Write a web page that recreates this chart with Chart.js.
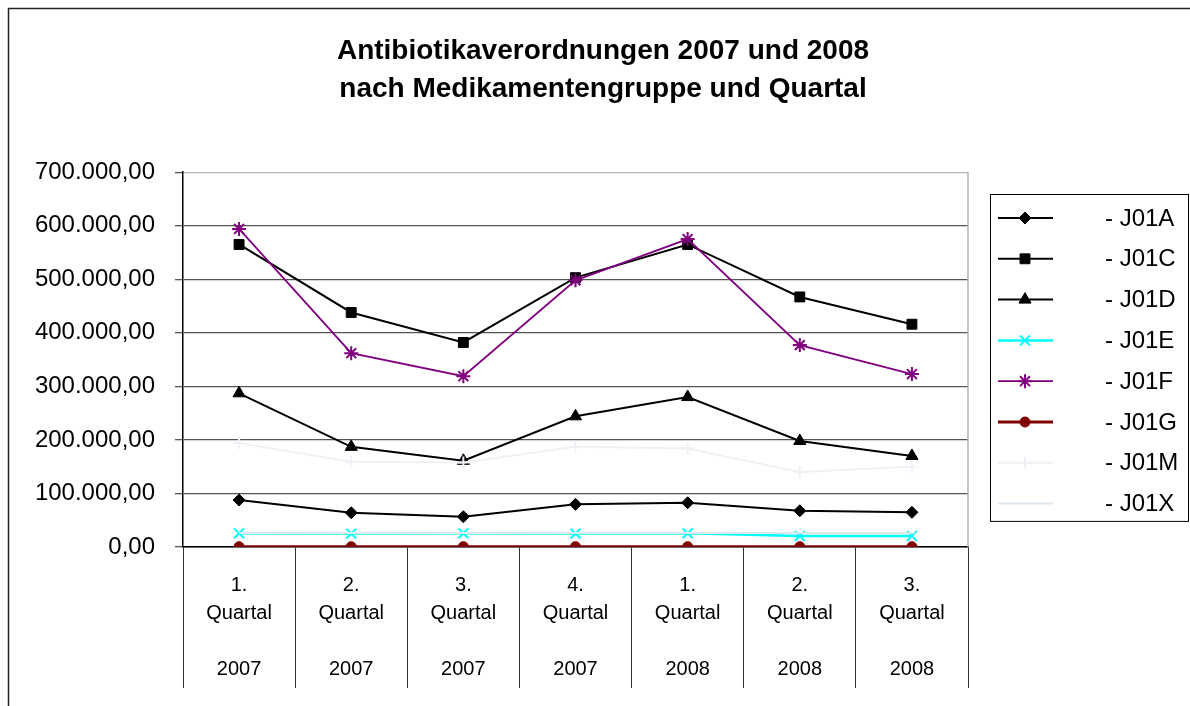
<!DOCTYPE html>
<html>
<head>
<meta charset="utf-8">
<style>
    html, body { margin: 0; padding: 0; background: #fff; overflow: hidden; }
    #wrap { position: relative; width: 1190px; height: 706px; }
</style>
<script src="https://cdn.jsdelivr.net/npm/chart.js@4.4.1/dist/chart.umd.min.js"></script>
</head>
<body>
<div id="wrap"><canvas id="chartQuartal" width="1190" height="706"></canvas></div>
<script>
    const quartale = ['1.', '2.', '3.', '4.', '1.', '2.', '3.'];
    const jahre = ['2007', '2007', '2007', '2007', '2008', '2008', '2008'];
    const gruppen = ['- J01A', '- J01C', '- J01D', '- J01E', '- J01F', '- J01G', '- J01M', '- J01X'];

    const werteJ01A = [87700, 64000, 56500, 79700, 82600, 67700, 64700];
    const werteJ01C = [565000, 438000, 382000, 503000, 565000, 467000, 416000];
    const werteJ01D = [287000, 187000, 161000, 244000, 280000, 198000, 170000];
    const werteJ01E = [25500, 25000, 25500, 25000, 25500, 20500, 20500];
    const werteJ01F = [594000, 362000, 319000, 498000, 575000, 377000, 323000];
    const werteJ01G = [600, 600, 600, 600, 600, 600, 600];
    const werteJ01M = [194000, 159000, 158000, 187000, 184000, 140000, 150000];
    const werteJ01X = [26000, 26000, 26000, 26000, 26000, 26000, 26000];

    const yTicks = [0, 100000, 200000, 300000, 400000, 500000, 600000, 700000];

    function formatDe(value) {
        const ganz = Math.round(value).toString().replace(/\B(?=(\d{3})+(?!\d))/g, '.');
        return ganz + ',00';
    }

    const stile = [
        { werte: werteJ01A, farbe: '#000000', punkt: 'rectRot', radius: 6, breite: 2 },
        { werte: werteJ01C, farbe: '#000000', punkt: 'rect', radius: 7, breite: 2 },
        { werte: werteJ01D, farbe: '#000000', punkt: 'triangle', radius: 7, breite: 2 },
        { werte: werteJ01E, farbe: '#00ffff', punkt: 'crossRot', radius: 7, breite: 2.5 },
        { werte: werteJ01F, farbe: '#800080', punkt: 'star', radius: 7, breite: 1.8 },
        { werte: werteJ01G, farbe: '#800000', punkt: 'circle', radius: 5, breite: 3 },
        { werte: werteJ01M, farbe: '#eef2f6', punkt: 'cross', radius: 6, breite: 2 },
        { werte: werteJ01X, farbe: '#dfe7ee', punkt: 'dash', radius: 5, breite: 2 }
    ];

    const datasets = stile.map(function (s, i) {
        const strich = s.punkt === 'crossRot' || s.punkt === 'star' || s.punkt === 'cross';
        return {
            label: gruppen[i],
            data: s.werte,
            borderColor: s.farbe,
            backgroundColor: s.farbe,
            borderWidth: s.breite,
            pointStyle: s.punkt,
            pointRadius: s.radius,
            pointBorderWidth: strich ? 2 : 1,
            pointBackgroundColor: s.farbe,
            pointBorderColor: s.farbe,
            tension: 0,
            fill: false,
            order: -i
        };
    });

    // Rahmen um das ganze Diagramm und rechte Kante der Zeichenfläche
    const rahmenPlugin = {
        id: 'rahmen',
        beforeDraw: function (chart) {
            const ctx = chart.ctx;
            ctx.save();
            ctx.fillStyle = '#fff';
            ctx.fillRect(0, 0, chart.width, chart.height);
            ctx.strokeStyle = '#222';
            ctx.lineWidth = 1.5;
            ctx.strokeRect(8.5, 8.5, chart.width + 20, chart.height + 20);
            ctx.restore();
        },
        afterDatasetsDraw: function (chart) {
            const a = chart.chartArea;
            const ctx = chart.ctx;
            ctx.save();
            ctx.strokeStyle = '#b0b0b0';
            ctx.lineWidth = 1.5;
            ctx.beginPath();
            ctx.moveTo(a.right, a.top);
            ctx.lineTo(a.right, a.bottom);
            ctx.stroke();
            ctx.restore();
        }
    };

    // Legende mit Linie + Markierung wie in Excel
    const legendePlugin = {
        id: 'legendeExcel',
        afterDraw: function (chart) {
            const ctx = chart.ctx;
            const a = chart.chartArea;
            const x0 = a.right + 22;
            const y0 = 194;
            const zeile = 40.8;
            const hoehe = zeile * datasets.length + 0.5;
            ctx.save();
            ctx.strokeStyle = '#000';
            ctx.lineWidth = 1;
            ctx.strokeRect(x0 + 0.5, y0 + 0.5, 198, hoehe);
            ctx.font = '24px "Liberation Sans", Arial, sans-serif';
            ctx.textBaseline = 'middle';
            ctx.textAlign = 'left';
            chart.data.datasets.forEach(function (ds, i) {
                const y = y0 + 24 + i * zeile;
                ctx.strokeStyle = ds.borderColor;
                ctx.lineWidth = ds.borderWidth;
                ctx.beginPath();
                ctx.moveTo(x0 + 8, y);
                ctx.lineTo(x0 + 63, y);
                ctx.stroke();
                ctx.fillStyle = ds.pointBackgroundColor;
                ctx.strokeStyle = ds.pointBorderColor;
                ctx.lineWidth = ds.pointBorderWidth;
                Chart.helpers.drawPoint(ctx, {
                    pointStyle: ds.pointStyle,
                    radius: ds.pointRadius,
                    rotation: 0,
                    borderWidth: ds.pointBorderWidth
                }, x0 + 35, y);
                ctx.fillStyle = '#000';
                ctx.fillText(ds.label, x0 + 115, y + 1);
            });
            ctx.restore();
        }
    };

    Chart.defaults.font.family = '"Liberation Sans", Arial, sans-serif';
    Chart.defaults.color = '#000';

    new Chart(document.getElementById('chartQuartal'), {
        type: 'line',
        data: {
            labels: quartale.map(function (q, i) {
                return [q, 'Quartal', '', jahre[i]];
            }),
            datasets: datasets
        },
        options: {
            responsive: false,
            animation: false,
            events: [],
            layout: {
                padding: { left: 16, right: 0, top: 0, bottom: 0 }
            },
            plugins: {
                legend: { display: false },
                tooltip: { enabled: false },
                title: {
                    display: true,
                    text: ['Antibiotikaverordnungen 2007 und 2008', 'nach Medikamentengruppe und Quartal'],
                    font: { size: 28, weight: 'bold', lineHeight: 1.36 },
                    padding: { top: 32, bottom: 64 },
                    color: '#000'
                }
            },
            scales: {
                x: {
                    offset: true,
                    grid: {
                        offset: true,
                        drawOnChartArea: false,
                        drawTicks: true,
                        tickLength: 141,
                        color: '#333',
                        lineWidth: 1
                    },
                    border: { display: true, color: '#000', width: 1.5 },
                    ticks: {
                        autoSkip: false,
                        maxRotation: 0,
                        padding: -117,
                        font: { size: 20, lineHeight: 1.4 }
                    },
                    afterFit: function (scale) {
                        scale.height = 159;
                    }
                },
                y: {
                    min: 0,
                    max: 700000,
                    afterBuildTicks: function (scale) {
                        scale.ticks = yTicks.map(function (v) { return { value: v }; });
                    },
                    grid: {
                        color: function (c) {
                            return c.tick && c.tick.value === 700000 ? '#b8b8b8' : '#555';
                        },
                        lineWidth: 1.3,
                        tickLength: 8,
                        tickColor: '#555'
                    },
                    border: { display: true, color: '#000', width: 1.5 },
                    ticks: {
                        padding: 20,
                        font: { size: 24 },
                        callback: function (v) { return formatDe(v); }
                    },
                    afterFit: function (scale) {
                        scale.width = 167;
                    }
                },
                // Platzhalter rechts für die Legende
                legendePlatz: {
                    type: 'linear',
                    position: 'right',
                    display: true,
                    grid: { display: false, drawTicks: false },
                    border: { display: false },
                    ticks: { display: false },
                    afterFit: function (scale) {
                        scale.width = 222;
                    }
                }
            }
        },
        plugins: [rahmenPlugin, legendePlugin]
    });
</script>
</body>
</html>
